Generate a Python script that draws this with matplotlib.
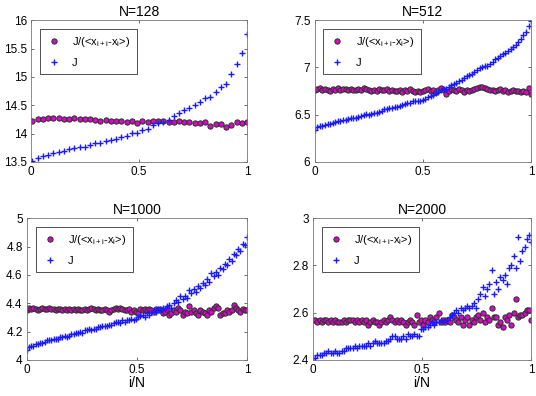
import numpy as np
import matplotlib
matplotlib.use("Agg")
import matplotlib.pyplot as plt
from matplotlib.ticker import FuncFormatter

plt.rcParams['font.family'] = ['Liberation Sans', 'DejaVu Sans']
plt.rcParams['mathtext.fontset'] = 'custom'
plt.rcParams['mathtext.rm'] = 'Liberation Sans'
plt.rcParams['mathtext.it'] = 'Liberation Sans'

titles = ["N=128", "N=512", "N=1000", "N=2000"]
ylims = [(13.5, 16), (6, 7.5), (4, 5), (2.4, 3)]
yticks = [[13.5, 14, 14.5, 15, 15.5, 16], [6, 6.5, 7, 7.5],
          [4, 4.2, 4.4, 4.6, 4.8, 5], [2.4, 2.6, 2.8, 3]]
xticks = [0, 0.5, 1]
label_ratio = r'J/(<x$_{\rm i+i}$-x$_{\rm i}$>)'
label_J = 'J'
xlabel = 'i/N'

J128 = [13.52, 13.57, 13.61, 13.63, 13.66, 13.68, 13.70, 13.72, 13.75, 13.77,
        13.77, 13.80, 13.83, 13.83, 13.87, 13.89, 13.91, 13.94, 13.95, 14.01,
        14.01, 14.06, 14.09, 14.15, 14.19, 14.21, 14.24, 14.31, 14.37, 14.41,
        14.46, 14.51, 14.56, 14.63, 14.64, 14.73, 14.83, 14.88, 15.05, 15.22,
        15.42, 15.75]
R128 = [14.22, 14.25, 14.26, 14.27, 14.28, 14.27, 14.26, 14.26, 14.27, 14.26,
        14.25, 14.25, 14.24, 14.23, 14.24, 14.22, 14.22, 14.23, 14.21, 14.23,
        14.19, 14.22, 14.20, 14.22, 14.22, 14.22, 14.20, 14.21, 14.23, 14.21,
        14.20, 14.19, 14.19, 14.21, 14.14, 14.17, 14.17, 14.12, 14.16, 14.20,
        14.19, 14.20]

J512 = [6.34, 6.37, 6.38, 6.38, 6.39, 6.40, 6.40, 6.41, 6.42, 6.43,
        6.43, 6.44, 6.44, 6.45, 6.46, 6.47, 6.47, 6.48, 6.49, 6.50,
        6.51, 6.50, 6.51, 6.52, 6.52, 6.53, 6.54, 6.56, 6.56, 6.57,
        6.57, 6.58, 6.58, 6.59, 6.60, 6.61, 6.62, 6.62, 6.64, 6.64,
        6.65, 6.65, 6.66, 6.67, 6.69, 6.70, 6.71, 6.73, 6.74, 6.76,
        6.77, 6.77, 6.79, 6.81, 6.82, 6.84, 6.86, 6.87, 6.89, 6.91,
        6.92, 6.93, 6.95, 6.97, 6.99, 7.01, 7.02, 7.02, 7.04, 7.06,
        7.09, 7.10, 7.12, 7.14, 7.15, 7.17, 7.19, 7.22, 7.24, 7.27,
        7.30, 7.34, 7.37, 7.44, 7.49]
R512 = [6.76, 6.77, 6.78, 6.76, 6.77, 6.76, 6.75, 6.77, 6.76, 6.78,
        6.76, 6.77, 6.77, 6.76, 6.77, 6.76, 6.76, 6.77, 6.76, 6.78,
        6.77, 6.76, 6.75, 6.76, 6.75, 6.77, 6.76, 6.76, 6.77, 6.75,
        6.76, 6.75, 6.75, 6.76, 6.74, 6.76, 6.75, 6.77, 6.75, 6.74,
        6.75, 6.74, 6.75, 6.76, 6.77, 6.75, 6.76, 6.74, 6.76, 6.78,
        6.76, 6.72, 6.75, 6.77, 6.76, 6.75, 6.77, 6.76, 6.74, 6.76,
        6.75, 6.76, 6.77, 6.78, 6.79, 6.79, 6.78, 6.77, 6.76, 6.76,
        6.75, 6.76, 6.77, 6.75, 6.76, 6.74, 6.75, 6.76, 6.75, 6.75,
        6.74, 6.75, 6.74, 6.78, 6.72]

J1000 = [4.07, 4.09, 4.10, 4.10, 4.11, 4.11, 4.12, 4.12, 4.13, 4.14,
         4.14, 4.14, 4.15, 4.15, 4.15, 4.16, 4.16, 4.17, 4.16, 4.17,
         4.18, 4.18, 4.19, 4.19, 4.20, 4.19, 4.21, 4.21, 4.22, 4.21,
         4.22, 4.22, 4.23, 4.23, 4.24, 4.24, 4.24, 4.25, 4.25, 4.26,
         4.27, 4.27, 4.26, 4.28, 4.27, 4.28, 4.28, 4.29, 4.28, 4.29,
         4.30, 4.31, 4.32, 4.30, 4.33, 4.32, 4.34, 4.35, 4.34, 4.36,
         4.35, 4.37, 4.36, 4.38, 4.39, 4.37, 4.40, 4.42, 4.41, 4.45,
         4.43, 4.45, 4.44, 4.49, 4.47, 4.50, 4.48, 4.52, 4.51, 4.54,
         4.53, 4.57, 4.55, 4.61, 4.59, 4.62, 4.60, 4.65, 4.64, 4.68,
         4.67, 4.71, 4.70, 4.75, 4.74, 4.78, 4.77, 4.82, 4.81, 4.87]
R1000 = [4.35, 4.37, 4.36, 4.37, 4.36, 4.35, 4.36, 4.37, 4.36, 4.36,
         4.37, 4.36, 4.36, 4.35, 4.36, 4.36, 4.35, 4.36, 4.35, 4.36,
         4.35, 4.36, 4.35, 4.36, 4.35, 4.35, 4.36, 4.35, 4.36, 4.37,
         4.36, 4.35, 4.36, 4.35, 4.35, 4.36, 4.35, 4.34, 4.35, 4.36,
         4.37, 4.36, 4.37, 4.36, 4.35, 4.35, 4.36, 4.34, 4.35, 4.34,
         4.33, 4.36, 4.35, 4.36, 4.35, 4.36, 4.35, 4.34, 4.36, 4.35,
         4.36, 4.33, 4.34, 4.36, 4.32, 4.33, 4.35, 4.34, 4.37, 4.35,
         4.32, 4.34, 4.33, 4.38, 4.34, 4.35, 4.33, 4.32, 4.35, 4.34,
         4.33, 4.32, 4.35, 4.34, 4.37, 4.38, 4.37, 4.32, 4.33, 4.33,
         4.35, 4.34, 4.35, 4.39, 4.37, 4.35, 4.34, 4.36, 4.35, 4.35]

J2000 = [2.41, 2.41, 2.42, 2.42, 2.42, 2.43, 2.43, 2.44, 2.43, 2.43,
         2.44, 2.43, 2.43, 2.44, 2.44, 2.45, 2.45, 2.45, 2.45, 2.46,
         2.45, 2.46, 2.46, 2.46, 2.46, 2.47, 2.46, 2.47, 2.48, 2.47,
         2.47, 2.47, 2.47, 2.48, 2.48, 2.49, 2.50, 2.50, 2.49, 2.49,
         2.49, 2.50, 2.49, 2.51, 2.50, 2.50, 2.51, 2.50, 2.50, 2.53,
         2.53, 2.54, 2.54, 2.55, 2.56, 2.55, 2.56, 2.56, 2.57, 2.56,
         2.57, 2.57, 2.58, 2.59, 2.60, 2.61, 2.60, 2.62, 2.61, 2.62,
         2.63, 2.62, 2.63, 2.64, 2.62, 2.66, 2.68, 2.71, 2.67, 2.70,
         2.72, 2.78, 2.68, 2.73, 2.70, 2.75, 2.74, 2.76, 2.72, 2.79,
         2.80, 2.84, 2.79, 2.92, 2.82, 2.86, 2.88, 2.91, 2.93, 2.90]
R2000 = [2.57, 2.57, 2.56, 2.57, 2.56, 2.57, 2.57, 2.56, 2.57, 2.56,
         2.57, 2.56, 2.56, 2.56, 2.57, 2.56, 2.57, 2.57, 2.57, 2.56,
         2.57, 2.56, 2.57, 2.56, 2.57, 2.55, 2.56, 2.57, 2.56, 2.56,
         2.55, 2.56, 2.57, 2.56, 2.57, 2.58, 2.57, 2.56, 2.57, 2.56,
         2.57, 2.56, 2.55, 2.56, 2.57, 2.56, 2.55, 2.59, 2.56, 2.57,
         2.55, 2.57, 2.56, 2.58, 2.57, 2.56, 2.58, 2.60, 2.56, 2.57,
         2.56, 2.57, 2.56, 2.59, 2.58, 2.57, 2.56, 2.58, 2.55, 2.57,
         2.58, 2.55, 2.57, 2.56, 2.58, 2.59, 2.57, 2.60, 2.56, 2.58,
         2.57, 2.62, 2.58, 2.58, 2.55, 2.56, 2.54, 2.58, 2.57, 2.59,
         2.55, 2.60, 2.66, 2.58, 2.59, 2.59, 2.60, 2.61, 2.61, 2.57]

Js = [J128, J512, J1000, J2000]
Rs = [R128, R512, R1000, R2000]
x_start = [0.006, 0.0, 0.0, 0.0]

positions = [
    [0.058, 0.591, 0.403, 0.358],
    [0.587, 0.591, 0.404, 0.358],
    [0.050, 0.091, 0.411, 0.358],
    [0.584, 0.091, 0.407, 0.358],
]

fig = plt.figure(figsize=(5.36, 3.96), dpi=100)
fmt = FuncFormatter(lambda v, p: '%g' % v)

for k in range(4):
    ax = fig.add_axes(positions[k])
    xr = np.linspace(x_start[k], 1, len(Rs[k]))
    xj = np.linspace(x_start[k], 1, len(Js[k]))
    ax.plot(xr, Rs[k], linestyle='none', marker='o', markersize=3.8,
            markerfacecolor='#e000d0', markeredgecolor='#1a3a1a',
            markeredgewidth=0.7, label=label_ratio)
    ax.plot(xj, Js[k], linestyle='none', marker='+', markersize=5,
            color='#1a1aff', markeredgewidth=1.0, label=label_J)
    ax.set_xlim(0, 1)
    ax.set_ylim(*ylims[k])
    ax.set_xticks(xticks)
    ax.set_yticks(yticks[k])
    ax.xaxis.set_major_formatter(fmt)
    ax.yaxis.set_major_formatter(fmt)
    ax.tick_params(direction='in', top=True, right=True, labelsize=8.5,
                   length=2.5, width=0.6, color='#555555', pad=3)
    for s in ax.spines.values():
        s.set_linewidth(0.6)
        s.set_color('#777777')
    ax.set_title(titles[k], fontsize=10, pad=3)
    if k >= 2:
        ax.set_xlabel(xlabel, fontsize=10, labelpad=0)
    leg = ax.legend(loc='upper left', bbox_to_anchor=(0.04, 0.94),
                    fontsize=8, fancybox=False, framealpha=1,
                    edgecolor='#333333', handletextpad=1.0,
                    borderpad=0.6, labelspacing=0.75, handlelength=1.3,
                    borderaxespad=0)
    leg.get_frame().set_linewidth(0.6)

fig.savefig('out.png', dpi=100)
